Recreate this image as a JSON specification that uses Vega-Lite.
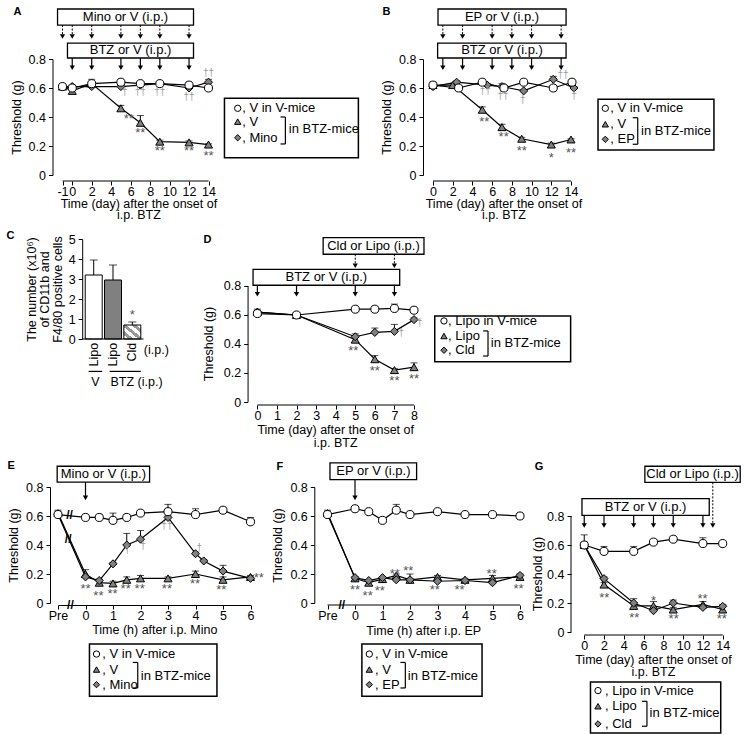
{
"$schema": "https://vega.github.io/schema/vega-lite/v6.json",
"background": "white",
"padding": {"left": 6, "top": 5, "right": 2, "bottom": 0},
"config": {
  "font": "Liberation Sans",
  "view": {"stroke": null},
  "legend": {"disable": true},
  "axis": {"grid": false, "domainColor": "#000", "tickColor": "#000", "labelColor": "#000", "titleColor": "#000", "labelFontSize": 12.5, "titleFontSize": 12.5, "titleFontWeight": "normal", "labelFont": "Liberation Sans", "titleFont": "Liberation Sans", "domainWidth": 1, "tickWidth": 1, "tickSize": 4},
  "axisX": {"labelPadding": 0, "labelFlush": false, "labelOverlap": false},
  "axisY": {"labelPadding": 3, "labelOverlap": false},
  "text": {"font": "Liberation Sans", "fontSize": 12.5, "color": "#000"}
},
"datasets": {
  "A": [
    {"t":-1,"g":"t","v":0.61,"hi":0.63},{"t":0,"g":"t","v":0.58,"hi":0.59},{"t":2,"g":"t","v":0.63,"hi":0.66},{"t":5,"g":"t","v":0.46,"hi":0.48},{"t":7,"g":"t","v":0.36,"hi":0.41},{"t":9,"g":"t","v":0.23,"hi":0.24},{"t":12,"g":"t","v":0.225,"hi":0.235},{"t":14,"g":"t","v":0.21,"hi":0.215},
    {"t":-1,"g":"d","v":0.61,"hi":0.62},{"t":0,"g":"d","v":0.61,"hi":0.62},{"t":2,"g":"d","v":0.61,"hi":0.62},{"t":5,"g":"d","v":0.61,"hi":0.62},{"t":7,"g":"d","v":0.62,"hi":0.64},{"t":9,"g":"d","v":0.63,"hi":0.64},{"t":12,"g":"d","v":0.6,"hi":0.61},{"t":14,"g":"d","v":0.64,"hi":0.66},
    {"t":-1,"g":"o","v":0.61,"hi":0.63},{"t":0,"g":"o","v":0.6,"hi":0.61},{"t":2,"g":"o","v":0.63,"hi":0.64},{"t":5,"g":"o","v":0.64,"hi":0.65},{"t":7,"g":"o","v":0.63,"hi":0.64},{"t":9,"g":"o","v":0.63,"hi":0.64},{"t":12,"g":"o","v":0.62,"hi":0.63},{"t":14,"g":"o","v":0.6,"hi":0.61}
  ],
  "Aarr": [{"t":-1,"k":"top"},{"t":0,"k":"top"},{"t":2,"k":"top"},{"t":5,"k":"top"},{"t":7,"k":"top"},{"t":9,"k":"top"},{"t":12,"k":"top"},{"t":0,"k":"bot"},{"t":2,"k":"bot"},{"t":5,"k":"bot"},{"t":7,"k":"bot"},{"t":9,"k":"bot"},{"t":12,"k":"bot"}],
  "Asig": [{"t":5.8,"at":0.41,"s":"**"},{"t":7,"at":0.31,"s":"**"},{"t":9,"at":0.185,"s":"**"},{"t":12,"at":0.185,"s":"**"},{"t":14,"at":0.15,"s":"**"},{"t":5.4,"at":0.575,"s":"†"},{"t":7,"at":0.575,"s":"††"},{"t":9,"at":0.575,"s":"††"},{"t":12,"at":0.54,"s":"††"},{"t":14,"at":0.705,"s":"††"}],
  "B": [
    {"t":0,"g":"t","v":0.62,"hi":0.64},{"t":2,"g":"t","v":0.62,"hi":0.63},{"t":5,"g":"t","v":0.45,"hi":0.47},{"t":7,"g":"t","v":0.33,"hi":0.35},{"t":9,"g":"t","v":0.25,"hi":0.26},{"t":12,"g":"t","v":0.21,"hi":0.22},{"t":14,"g":"t","v":0.245,"hi":0.25},
    {"t":0,"g":"d","v":0.61,"hi":0.62},{"t":2.4,"g":"d","v":0.64,"hi":0.65},{"t":5.5,"g":"d","v":0.62,"hi":0.63},{"t":7,"g":"d","v":0.61,"hi":0.63},{"t":9.2,"g":"d","v":0.58,"hi":0.59},{"t":12.2,"g":"d","v":0.66,"hi":0.68},{"t":14.3,"g":"d","v":0.6,"hi":0.61},
    {"t":0,"g":"o","v":0.62,"hi":0.63},{"t":2.6,"g":"o","v":0.6,"hi":0.61},{"t":5,"g":"o","v":0.64,"hi":0.65},{"t":7.2,"g":"o","v":0.6,"hi":0.61},{"t":9.2,"g":"o","v":0.64,"hi":0.65},{"t":12.2,"g":"o","v":0.6,"hi":0.61},{"t":14.1,"g":"o","v":0.64,"hi":0.65}
  ],
  "Barr": [{"t":1,"k":"top"},{"t":3,"k":"top"},{"t":6,"k":"top"},{"t":8,"k":"top"},{"t":10,"k":"top"},{"t":13,"k":"top"},{"t":1,"k":"bot"},{"t":3,"k":"bot"},{"t":6,"k":"bot"},{"t":8,"k":"bot"},{"t":10,"k":"bot"},{"t":13,"k":"bot"}],
  "Bsig": [{"t":5.2,"at":0.384,"s":"**"},{"t":7.17,"at":0.28,"s":"**"},{"t":9,"at":0.188,"s":"**"},{"t":12,"at":0.138,"s":"*"},{"t":14,"at":0.172,"s":"**"},{"t":5.3,"at":0.579,"s":"††"},{"t":7.1,"at":0.545,"s":"††"},{"t":9.1,"at":0.515,"s":"†"},{"t":13.2,"at":0.687,"s":"††"},{"t":14.3,"at":0.545,"s":"†"}],
  "C": [{"k":"a","lab":"Lipo","v":3.2,"hi":3.95},{"k":"b","lab":"Lipo","v":2.95,"hi":3.7},{"k":"c","lab":"Cld","v":0.7,"hi":0.85}],
  "D": [
    {"t":0,"g":"t","v":0.62,"hi":0.63},{"t":2,"g":"t","v":0.6,"hi":0.61},{"t":5,"g":"t","v":0.43,"hi":0.45},{"t":6,"g":"t","v":0.295,"hi":0.32},{"t":7,"g":"t","v":0.22,"hi":0.23},{"t":8,"g":"t","v":0.24,"hi":0.27},
    {"t":0,"g":"d","v":0.62,"hi":0.64},{"t":2,"g":"d","v":0.6,"hi":0.61},{"t":5,"g":"d","v":0.45,"hi":0.47},{"t":6,"g":"d","v":0.48,"hi":0.51},{"t":7,"g":"d","v":0.487,"hi":0.535},{"t":8,"g":"d","v":0.568,"hi":0.58},
    {"t":0,"g":"o","v":0.61,"hi":0.62},{"t":2,"g":"o","v":0.6,"hi":0.61},{"t":5,"g":"o","v":0.64,"hi":0.65},{"t":6,"g":"o","v":0.64,"hi":0.65},{"t":7,"g":"o","v":0.645,"hi":0.675},{"t":8,"g":"o","v":0.633,"hi":0.645}
  ],
  "Darr": [{"t":5,"k":"top"},{"t":7,"k":"top"},{"t":0,"k":"bot"},{"t":2,"k":"bot"},{"t":5,"k":"bot"},{"t":7,"k":"bot"}],
  "Dsig": [{"t":4.9,"at":0.374,"s":"**"},{"t":6,"at":0.237,"s":"**"},{"t":7,"at":0.168,"s":"**"},{"t":8,"at":0.18,"s":"**"},{"t":7.35,"at":0.478,"s":"†"},{"t":8.29,"at":0.547,"s":"†"}],
  "E": [
    {"t":-1,"g":"t","v":0.62,"hi":0.64},{"t":0,"g":"t","v":0.2,"hi":0.23},{"t":0.5,"g":"t","v":0.14,"hi":0.16},{"t":1,"g":"t","v":0.135,"hi":0.15},{"t":1.5,"g":"t","v":0.16,"hi":0.18},{"t":2,"g":"t","v":0.17,"hi":0.19},{"t":3,"g":"t","v":0.17,"hi":0.18},{"t":4,"g":"t","v":0.2,"hi":0.22},{"t":5,"g":"t","v":0.16,"hi":0.18},{"t":6,"g":"t","v":0.18,"hi":0.19},
    {"t":-1,"g":"d","v":0.61,"hi":0.62},{"t":0,"g":"d","v":0.18,"hi":0.19},{"t":0.5,"g":"d","v":0.155,"hi":0.165},{"t":1,"g":"d","v":0.27,"hi":0.28},{"t":1.5,"g":"d","v":0.4,"hi":0.48},{"t":2,"g":"d","v":0.44,"hi":0.5},{"t":3,"g":"d","v":0.59,"hi":0.6},{"t":4,"g":"d","v":0.34,"hi":0.35},{"t":4.3,"g":"d","v":0.29,"hi":0.3},{"t":5,"g":"d","v":0.22,"hi":0.26},{"t":6,"g":"d","v":0.17,"hi":0.18},
    {"t":-1,"g":"o","v":0.61,"hi":0.63},{"t":0,"g":"o","v":0.59,"hi":0.61},{"t":0.5,"g":"o","v":0.59,"hi":0.61},{"t":1,"g":"o","v":0.57,"hi":0.62},{"t":1.5,"g":"o","v":0.59,"hi":0.61},{"t":2,"g":"o","v":0.62,"hi":0.63},{"t":3,"g":"o","v":0.63,"hi":0.68},{"t":4,"g":"o","v":0.61,"hi":0.65},{"t":5,"g":"o","v":0.64,"hi":0.65},{"t":6,"g":"o","v":0.56,"hi":0.59}
  ],
  "Earr": [{"t":0,"k":"bot"}],
  "Esig": [{"t":0,"at":0.115,"s":"**"},{"t":0.47,"at":0.069,"s":"**"},{"t":0.98,"at":0.08,"s":"**"},{"t":1.46,"at":0.115,"s":"**"},{"t":1.97,"at":0.115,"s":"**"},{"t":2.96,"at":0.115,"s":"**"},{"t":3.98,"at":0.15,"s":"**"},{"t":4.94,"at":0.108,"s":"**"},{"t":6.3,"at":0.19,"s":"**"},{"t":1.52,"at":0.368,"s":"†"},{"t":2.09,"at":0.391,"s":"†"},{"t":2.96,"at":0.529,"s":"††"},{"t":4.14,"at":0.379,"s":"†"}],
  "F": [
    {"t":-1,"g":"t","v":0.62,"hi":0.64},{"t":0,"g":"t","v":0.17,"hi":0.18},{"t":0.5,"g":"t","v":0.14,"hi":0.16},{"t":1,"g":"t","v":0.165,"hi":0.18},{"t":1.5,"g":"t","v":0.19,"hi":0.2},{"t":2,"g":"t","v":0.16,"hi":0.2},{"t":3,"g":"t","v":0.18,"hi":0.19},{"t":4,"g":"t","v":0.16,"hi":0.17},{"t":5,"g":"t","v":0.17,"hi":0.19},{"t":6,"g":"t","v":0.18,"hi":0.19},
    {"t":-1,"g":"d","v":0.61,"hi":0.62},{"t":0,"g":"d","v":0.175,"hi":0.18},{"t":0.5,"g":"d","v":0.155,"hi":0.16},{"t":1,"g":"d","v":0.175,"hi":0.18},{"t":1.5,"g":"d","v":0.16,"hi":0.17},{"t":2,"g":"d","v":0.16,"hi":0.17},{"t":3,"g":"d","v":0.15,"hi":0.16},{"t":4,"g":"d","v":0.155,"hi":0.16},{"t":5,"g":"d","v":0.14,"hi":0.15},{"t":6,"g":"d","v":0.19,"hi":0.2},
    {"t":-1,"g":"o","v":0.61,"hi":0.63},{"t":0,"g":"o","v":0.65,"hi":0.66},{"t":0.5,"g":"o","v":0.63,"hi":0.64},{"t":1,"g":"o","v":0.57,"hi":0.58},{"t":1.5,"g":"o","v":0.64,"hi":0.68},{"t":2,"g":"o","v":0.61,"hi":0.62},{"t":3,"g":"o","v":0.63,"hi":0.64},{"t":4,"g":"o","v":0.61,"hi":0.62},{"t":5,"g":"o","v":0.61,"hi":0.62},{"t":6,"g":"o","v":0.6,"hi":0.61}
  ],
  "Farr": [{"t":0,"k":"bot"}],
  "Fsig": [{"t":0,"at":0.108,"s":"**"},{"t":0.46,"at":0.069,"s":"**"},{"t":0.9,"at":0.104,"s":"**"},{"t":1.45,"at":0.223,"s":"**"},{"t":1.94,"at":0.241,"s":"**"},{"t":2.9,"at":0.108,"s":"**"},{"t":3.8,"at":0.108,"s":"**"},{"t":4.97,"at":0.223,"s":"**"},{"t":5.95,"at":0.12,"s":"**"}],
  "G": [
    {"t":0,"g":"t","v":0.6,"hi":0.62},{"t":2,"g":"t","v":0.327,"hi":0.34},{"t":5,"g":"t","v":0.18,"hi":0.2},{"t":7,"g":"t","v":0.18,"hi":0.21},{"t":9,"g":"t","v":0.155,"hi":0.17},{"t":12,"g":"t","v":0.19,"hi":0.21},{"t":14,"g":"t","v":0.155,"hi":0.18},
    {"t":0,"g":"d","v":0.6,"hi":0.61},{"t":2,"g":"d","v":0.368,"hi":0.38},{"t":5,"g":"d","v":0.2,"hi":0.23},{"t":7,"g":"d","v":0.147,"hi":0.16},{"t":9,"g":"d","v":0.2,"hi":0.22},{"t":12,"g":"d","v":0.17,"hi":0.18},{"t":14,"g":"d","v":0.177,"hi":0.19},
    {"t":0,"g":"o","v":0.6,"hi":0.67},{"t":2,"g":"o","v":0.556,"hi":0.59},{"t":5,"g":"o","v":0.556,"hi":0.59},{"t":7,"g":"o","v":0.62,"hi":0.63},{"t":9,"g":"o","v":0.64,"hi":0.65},{"t":12,"g":"o","v":0.61,"hi":0.65},{"t":14,"g":"o","v":0.61,"hi":0.62}
  ],
  "Garr": [{"t":13,"k":"top"},{"t":0,"k":"bot"},{"t":2,"k":"bot"},{"t":5,"k":"bot"},{"t":7,"k":"bot"},{"t":9,"k":"bot"},{"t":12,"k":"bot"}],
  "Gsig": [{"t":2.02,"at":0.258,"s":"**"},{"t":5.06,"at":0.115,"s":"**"},{"t":7,"at":0.235,"s":"*"},{"t":9.04,"at":0.108,"s":"**"},{"t":11.97,"at":0.246,"s":"**"},{"t":13.9,"at":0.108,"s":"**"}]
},
"columns": 3,
"spacing": 0,
"bounds": "flush",
"align": "each",
"concat": [
 {"width": 150.5, "height": 116, "layer": [
  {"data": {"name": "A"}, "layer": [
   {"mark": {"type": "line", "color": "black", "strokeWidth": 1.2}, "encoding": {
     "x": {"field": "t", "type": "quantitative", "scale": {"domain": [-1.463, 14], "nice": false, "zero": false}, "axis": {"values": [-1,0,2,4,6,8,10,12,14], "labelExpr": "datum.value == -1 ? '-1' : format(datum.value, 'd')", "tickCount": 30, "offset": 6, "domain": false, "title": null, "labelOverlap": false}},
     "y": {"field": "v", "type": "quantitative", "scale": {"domain": [0, 0.8], "nice": false, "zero": false}, "axis": {"values": [0,0.2,0.4,0.6,0.8], "tickCount": 30, "offset": 5.5, "title": "Threshold (g)", "titlePadding": 5, "labelOverlap": false, "labelExpr": "datum.value == 0 ? '0' : format(datum.value, '.1f')"}},
     "detail": {"field": "g"}}},
   {"mark": {"type": "rule", "color": "black", "strokeWidth": 1}, "encoding": {"x": {"field": "t", "type": "quantitative"}, "y": {"field": "v", "type": "quantitative"}, "y2": {"field": "hi"}}},
   {"mark": {"type": "tick", "orient": "horizontal", "size": 7, "thickness": 1, "color": "black"}, "encoding": {"x": {"field": "t", "type": "quantitative"}, "y": {"field": "hi", "type": "quantitative"}}},
   {"mark": {"type": "point", "filled": true, "size": 65, "stroke": "black", "strokeWidth": 1, "opacity": 1}, "encoding": {"x": {"field": "t", "type": "quantitative"}, "y": {"field": "v", "type": "quantitative"}, "shape": {"field": "g", "type": "nominal", "scale": {"domain": ["o","t","d"], "range": ["circle","triangle-up","diamond"]}, "legend": null}, "fill": {"field": "g", "type": "nominal", "scale": {"domain": ["o","t","d"], "range": ["white","#808080","#808080"]}, "legend": null}}}
  ]},
  {"data": {"name": "Aarr"}, "layer": [
   {"transform": [{"filter": "datum.k == 'top'"}], "mark": {"type": "rule", "color": "black", "strokeWidth": 1, "strokeDash": [2, 1.5]}, "encoding": {"x": {"field": "t", "type": "quantitative"}, "y": {"datum": 1.034}, "y2": {"datum": 0.955}}},
   {"transform": [{"filter": "datum.k == 'top'"}], "mark": {"type": "point", "shape": "triangle-down", "filled": true, "color": "black", "opacity": 1, "size": 28}, "encoding": {"x": {"field": "t", "type": "quantitative"}, "y": {"datum": 0.955}}},
   {"transform": [{"filter": "datum.k == 'bot'"}], "mark": {"type": "rule", "color": "black", "strokeWidth": 1.2}, "encoding": {"x": {"field": "t", "type": "quantitative"}, "y": {"datum": 0.807}, "y2": {"datum": 0.74}}},
   {"transform": [{"filter": "datum.k == 'bot'"}], "mark": {"type": "point", "shape": "triangle-down", "filled": true, "color": "black", "opacity": 1, "size": 28}, "encoding": {"x": {"field": "t", "type": "quantitative"}, "y": {"datum": 0.74}}}
  ]},
  {"data": {"name": "Asig"}, "layer": [
   {"transform": [{"filter": "indexof(datum.s, '*') >= 0"}], "mark": {"type": "text", "fontSize": 13, "color": "#555555", "dy": 3}, "encoding": {"x": {"field": "t", "type": "quantitative"}, "y": {"field": "at", "type": "quantitative"}, "text": {"field": "s"}}},
   {"transform": [{"filter": "indexof(datum.s, '*') < 0"}], "mark": {"type": "text", "fontSize": 10, "color": "#999999"}, "encoding": {"x": {"field": "t", "type": "quantitative"}, "y": {"field": "at", "type": "quantitative"}, "text": {"field": "s"}}}
  ]},
  {"data": {"values": [{}]}, "layer": [
   {"mark": {"type": "rule", "color": "black", "strokeWidth": 1}, "encoding": {"x": {"datum": -1}, "x2": {"datum": 14}, "y": {"datum": -0.0414}}},
   {"mark": {"type": "text", "baseline": "middle"}, "encoding": {"x": {"datum": 6.85}, "y": {"datum": -0.197}, "text": {"value": "Time (day) after the onset of"}}},
   {"mark": {"type": "text", "baseline": "middle"}, "encoding": {"x": {"datum": 6.85}, "y": {"datum": -0.275}, "text": {"value": "i.p. BTZ"}}},
   {"mark": {"type": "rect", "fill": "white", "stroke": "black", "strokeWidth": 1.3}, "encoding": {"x": {"datum": -1.51}, "x2": {"datum": 12.46}, "y": {"datum": 1.145}, "y2": {"datum": 1.034}}},
   {"mark": {"type": "text", "fontSize": 13, "baseline": "middle"}, "encoding": {"x": {"datum": 5.47}, "y": {"datum": 1.09}, "text": {"value": "Mino or V (i.p.)"}}},
   {"mark": {"type": "rect", "fill": "white", "stroke": "black", "strokeWidth": 1.3}, "encoding": {"x": {"datum": -0.49}, "x2": {"datum": 12.46}, "y": {"datum": 0.91}, "y2": {"datum": 0.807}}},
   {"mark": {"type": "text", "fontSize": 13, "baseline": "middle"}, "encoding": {"x": {"datum": 5.99}, "y": {"datum": 0.859}, "text": {"value": "BTZ or V (i.p.)"}}},
   {"mark": {"type": "rect", "fill": "white", "stroke": "black", "strokeWidth": 1.5}, "encoding": {"x": {"datum": 15.64}, "x2": {"datum": 29.4}, "y": {"datum": 0.529}, "y2": {"datum": 0.119}}},
   {"mark": {"type": "point", "shape": "circle", "filled": true, "fill": "white", "stroke": "black", "strokeWidth": 1, "size": 40, "opacity": 1}, "encoding": {"x": {"datum": 17.0}, "y": {"datum": 0.46}}},
   {"mark": {"type": "point", "shape": "triangle-up", "filled": true, "fill": "#808080", "stroke": "black", "strokeWidth": 1, "size": 40, "opacity": 1}, "encoding": {"x": {"datum": 17.0}, "y": {"datum": 0.368}}},
   {"mark": {"type": "point", "shape": "diamond", "filled": true, "fill": "#808080", "stroke": "black", "strokeWidth": 1, "size": 40, "opacity": 1}, "encoding": {"x": {"datum": 17.0}, "y": {"datum": 0.257}}},
   {"mark": {"type": "text", "align": "left", "baseline": "middle", "fontSize": 13}, "encoding": {"x": {"datum": 17.46}, "y": {"datum": 0.46}, "text": {"value": ", V in V-mice"}}},
   {"mark": {"type": "text", "align": "left", "baseline": "middle", "fontSize": 13}, "encoding": {"x": {"datum": 17.46}, "y": {"datum": 0.368}, "text": {"value": ", V"}}},
   {"mark": {"type": "text", "align": "left", "baseline": "middle", "fontSize": 13}, "encoding": {"x": {"datum": 17.46}, "y": {"datum": 0.257}, "text": {"value": ", Mino"}}},
   {"mark": {"type": "rule", "color": "black", "strokeWidth": 1.2}, "encoding": {"x": {"datum": 21.9}, "y": {"datum": 0.4}, "y2": {"datum": 0.214}}},
   {"mark": {"type": "rule", "color": "black", "strokeWidth": 1.2}, "encoding": {"x": {"datum": 21.4}, "x2": {"datum": 21.9}, "y": {"datum": 0.4}}},
   {"mark": {"type": "rule", "color": "black", "strokeWidth": 1.2}, "encoding": {"x": {"datum": 21.4}, "x2": {"datum": 21.9}, "y": {"datum": 0.214}}},
   {"mark": {"type": "text", "align": "left", "baseline": "middle", "fontSize": 13}, "encoding": {"x": {"datum": 22.25}, "y": {"datum": 0.315}, "text": {"value": "in BTZ-mice"}}},
   {"mark": {"type": "text", "fontSize": 11, "fontWeight": "bold", "baseline": "middle"}, "encoding": {"x": {"datum": -5.62}, "y": {"datum": 1.127}, "text": {"value": "A"}}},
   {"mark": {"type": "text", "fontSize": 11, "fontWeight": "bold", "baseline": "middle"}, "encoding": {"x": {"datum": -6.34}, "y": {"datum": -0.42}, "text": {"value": "C"}}}
  ]}
 ]},
 {"width": 320, "height": 116, "layer": [
  {"data": {"name": "B"}, "layer": [
   {"mark": {"type": "line", "color": "black", "strokeWidth": 1.2}, "encoding": {
     "x": {"field": "t", "type": "quantitative", "scale": {"domain": [-18.46, 14], "nice": false, "zero": false}, "axis": {"values": [0,2,4,6,8,10,12,14], "format": "d", "tickCount": 30, "offset": 6, "domain": false, "title": null, "labelOverlap": false}},
     "y": {"field": "v", "type": "quantitative", "scale": {"domain": [0, 0.8], "nice": false, "zero": false}, "axis": {"values": [0,0.2,0.4,0.6,0.8], "tickCount": 30, "offset": -172, "title": "Threshold (g)", "titlePadding": 5, "labelOverlap": false, "labelExpr": "datum.value == 0 ? '0' : format(datum.value, '.1f')"}},
     "detail": {"field": "g"}}},
   {"mark": {"type": "rule", "color": "black", "strokeWidth": 1}, "encoding": {"x": {"field": "t", "type": "quantitative"}, "y": {"field": "v", "type": "quantitative"}, "y2": {"field": "hi"}}},
   {"mark": {"type": "tick", "orient": "horizontal", "size": 7, "thickness": 1, "color": "black"}, "encoding": {"x": {"field": "t", "type": "quantitative"}, "y": {"field": "hi", "type": "quantitative"}}},
   {"mark": {"type": "point", "filled": true, "size": 65, "stroke": "black", "strokeWidth": 1, "opacity": 1}, "encoding": {"x": {"field": "t", "type": "quantitative"}, "y": {"field": "v", "type": "quantitative"}, "shape": {"field": "g", "type": "nominal", "scale": {"domain": ["o","t","d"], "range": ["circle","triangle-up","diamond"]}, "legend": null}, "fill": {"field": "g", "type": "nominal", "scale": {"domain": ["o","t","d"], "range": ["white","#808080","#808080"]}, "legend": null}}}
  ]},
  {"data": {"name": "Barr"}, "layer": [
   {"transform": [{"filter": "datum.k == 'top'"}], "mark": {"type": "rule", "color": "black", "strokeWidth": 1, "strokeDash": [2, 1.5]}, "encoding": {"x": {"field": "t", "type": "quantitative"}, "y": {"datum": 1.034}, "y2": {"datum": 0.955}}},
   {"transform": [{"filter": "datum.k == 'top'"}], "mark": {"type": "point", "shape": "triangle-down", "filled": true, "color": "black", "opacity": 1, "size": 28}, "encoding": {"x": {"field": "t", "type": "quantitative"}, "y": {"datum": 0.955}}},
   {"transform": [{"filter": "datum.k == 'bot'"}], "mark": {"type": "rule", "color": "black", "strokeWidth": 1.2}, "encoding": {"x": {"field": "t", "type": "quantitative"}, "y": {"datum": 0.807}, "y2": {"datum": 0.74}}},
   {"transform": [{"filter": "datum.k == 'bot'"}], "mark": {"type": "point", "shape": "triangle-down", "filled": true, "color": "black", "opacity": 1, "size": 28}, "encoding": {"x": {"field": "t", "type": "quantitative"}, "y": {"datum": 0.74}}}
  ]},
  {"data": {"name": "Bsig"}, "layer": [
   {"transform": [{"filter": "indexof(datum.s, '*') >= 0"}], "mark": {"type": "text", "fontSize": 13, "color": "#555555", "dy": 3}, "encoding": {"x": {"field": "t", "type": "quantitative"}, "y": {"field": "at", "type": "quantitative"}, "text": {"field": "s"}}},
   {"transform": [{"filter": "indexof(datum.s, '*') < 0"}], "mark": {"type": "text", "fontSize": 10, "color": "#999999"}, "encoding": {"x": {"field": "t", "type": "quantitative"}, "y": {"field": "at", "type": "quantitative"}, "text": {"field": "s"}}}
  ]},
  {"data": {"values": [{}]}, "layer": [
   {"mark": {"type": "rule", "color": "black", "strokeWidth": 1}, "encoding": {"x": {"datum": 0}, "x2": {"datum": 14}, "y": {"datum": -0.0414}}},
   {"mark": {"type": "text", "baseline": "middle"}, "encoding": {"x": {"datum": 7.2}, "y": {"datum": -0.197}, "text": {"value": "Time (day) after the onset of"}}},
   {"mark": {"type": "text", "baseline": "middle"}, "encoding": {"x": {"datum": 7.2}, "y": {"datum": -0.275}, "text": {"value": "i.p. BTZ"}}},
   {"mark": {"type": "rect", "fill": "white", "stroke": "black", "strokeWidth": 1.3}, "encoding": {"x": {"datum": 0.51}, "x2": {"datum": 13.5}, "y": {"datum": 1.145}, "y2": {"datum": 1.034}}},
   {"mark": {"type": "text", "fontSize": 13, "baseline": "middle"}, "encoding": {"x": {"datum": 7.0}, "y": {"datum": 1.09}, "text": {"value": "EP or V (i.p.)"}}},
   {"mark": {"type": "rect", "fill": "white", "stroke": "black", "strokeWidth": 1.3}, "encoding": {"x": {"datum": 0.47}, "x2": {"datum": 13.5}, "y": {"datum": 0.91}, "y2": {"datum": 0.807}}},
   {"mark": {"type": "text", "fontSize": 13, "baseline": "middle"}, "encoding": {"x": {"datum": 7.0}, "y": {"datum": 0.859}, "text": {"value": "BTZ or V (i.p.)"}}},
   {"mark": {"type": "rect", "fill": "white", "stroke": "black", "strokeWidth": 1.5}, "encoding": {"x": {"datum": 16.74}, "x2": {"datum": 28.5}, "y": {"datum": 0.522}, "y2": {"datum": 0.172}}},
   {"mark": {"type": "point", "shape": "circle", "filled": true, "fill": "white", "stroke": "black", "strokeWidth": 1, "size": 40, "opacity": 1}, "encoding": {"x": {"datum": 17.48}, "y": {"datum": 0.46}}},
   {"mark": {"type": "point", "shape": "triangle-up", "filled": true, "fill": "#808080", "stroke": "black", "strokeWidth": 1, "size": 40, "opacity": 1}, "encoding": {"x": {"datum": 17.48}, "y": {"datum": 0.35}}},
   {"mark": {"type": "point", "shape": "diamond", "filled": true, "fill": "#808080", "stroke": "black", "strokeWidth": 1, "size": 40, "opacity": 1}, "encoding": {"x": {"datum": 17.48}, "y": {"datum": 0.246}}},
   {"mark": {"type": "text", "align": "left", "baseline": "middle", "fontSize": 13}, "encoding": {"x": {"datum": 17.99}, "y": {"datum": 0.46}, "text": {"value": ", V in V-mice"}}},
   {"mark": {"type": "text", "align": "left", "baseline": "middle", "fontSize": 13}, "encoding": {"x": {"datum": 17.99}, "y": {"datum": 0.35}, "text": {"value": ", V"}}},
   {"mark": {"type": "text", "align": "left", "baseline": "middle", "fontSize": 13}, "encoding": {"x": {"datum": 17.99}, "y": {"datum": 0.246}, "text": {"value": ", EP"}}},
   {"mark": {"type": "rule", "color": "black", "strokeWidth": 1.2}, "encoding": {"x": {"datum": 20.77}, "y": {"datum": 0.395}, "y2": {"datum": 0.212}}},
   {"mark": {"type": "rule", "color": "black", "strokeWidth": 1.2}, "encoding": {"x": {"datum": 20.26}, "x2": {"datum": 20.77}, "y": {"datum": 0.395}}},
   {"mark": {"type": "rule", "color": "black", "strokeWidth": 1.2}, "encoding": {"x": {"datum": 20.26}, "x2": {"datum": 20.77}, "y": {"datum": 0.212}}},
   {"mark": {"type": "text", "align": "left", "baseline": "middle", "fontSize": 13}, "encoding": {"x": {"datum": 21.1}, "y": {"datum": 0.303}, "text": {"value": "in BTZ-mice"}}},
   {"mark": {"type": "text", "fontSize": 11, "fontWeight": "bold", "baseline": "middle"}, "encoding": {"x": {"datum": -4.72}, "y": {"datum": 1.127}, "text": {"value": "B"}}}
  ]}
 ]},
 {"width": 1, "height": 1, "data": {"values": []}, "mark": {"type": "point", "opacity": 0}},

 {"width": 1, "height": 64, "data": {"values": []}, "mark": {"type": "point", "opacity": 0}},
 {"width": 1, "height": 1, "data": {"values": []}, "mark": {"type": "point", "opacity": 0}},
 {"width": 1, "height": 1, "data": {"values": []}, "mark": {"type": "point", "opacity": 0}},

 {"width": 85.5, "height": 100, "layer": [
  {"data": {"name": "C"}, "layer": [
   {"transform": [{"filter": "datum.k == 'a'"}], "mark": {"type": "bar", "fill": "white", "stroke": "black", "strokeWidth": 1}, "encoding": {
     "x": {"field": "k", "type": "nominal", "scale": {"domain": ["a","b","c"], "paddingInner": 0.12, "paddingOuter": 0.775, "align": 0.91}, "axis": {"labels": false, "ticks": false, "title": null, "domain": false}},
     "y": {"field": "v", "type": "quantitative", "scale": {"domain": [0, 5], "nice": false, "zero": true}, "axis": {"values": [0,1,2,3,4,5], "format": "d", "tickCount": 30, "offset": -24.2, "labelOverlap": false, "title": ["The number (x10⁶)", "of CD11b and", "F4/80 positive cells"], "titleLineHeight": 13, "titlePadding": 4}}}},
   {"transform": [{"filter": "datum.k == 'b'"}], "mark": {"type": "bar", "fill": "#808080", "stroke": "black", "strokeWidth": 1}, "encoding": {"x": {"field": "k", "type": "nominal"}, "y": {"field": "v", "type": "quantitative"}}},
   {"transform": [{"filter": "datum.k == 'c'"}], "mark": {"type": "bar", "stroke": "black", "strokeWidth": 1, "fill": {"gradient": "linear", "x1": 1, "y1": 0, "x2": 0, "y2": 1, "stops": [
     {"offset": 0, "color": "#ffffff"}, {"offset": 0.14, "color": "#ffffff"}, {"offset": 0.14, "color": "#9a9a9a"}, {"offset": 0.28, "color": "#9a9a9a"}, {"offset": 0.28, "color": "#ffffff"}, {"offset": 0.43, "color": "#ffffff"}, {"offset": 0.43, "color": "#9a9a9a"}, {"offset": 0.57, "color": "#9a9a9a"}, {"offset": 0.57, "color": "#ffffff"}, {"offset": 0.71, "color": "#ffffff"}, {"offset": 0.71, "color": "#9a9a9a"}, {"offset": 0.86, "color": "#9a9a9a"}, {"offset": 0.86, "color": "#ffffff"}, {"offset": 1, "color": "#ffffff"}]}}, "encoding": {"x": {"field": "k", "type": "nominal"}, "y": {"field": "v", "type": "quantitative"}}},
   {"mark": {"type": "rule", "color": "black", "strokeWidth": 1}, "encoding": {"x": {"field": "k", "type": "nominal"}, "y": {"field": "v", "type": "quantitative"}, "y2": {"field": "hi"}}},
   {"mark": {"type": "tick", "orient": "horizontal", "size": 8, "thickness": 1, "color": "black"}, "encoding": {"x": {"field": "k", "type": "nominal"}, "y": {"field": "hi", "type": "quantitative"}}},
   {"mark": {"type": "text", "angle": 270, "align": "right", "baseline": "middle", "fontSize": 12.5}, "encoding": {"x": {"field": "k", "type": "nominal"}, "y": {"datum": -0.19}, "text": {"field": "lab"}}}
  ]},
  {"data": {"values": [{}]}, "layer": [
   {"mark": {"type": "rule", "color": "black", "strokeWidth": 1}, "encoding": {"x": {"datum": "a", "type": "nominal", "bandPosition": -0.176}, "x2": {"datum": "c", "bandPosition": 1.16}, "y": {"datum": 0}}},
   {"mark": {"type": "text", "align": "left", "baseline": "middle", "dx": 3}, "encoding": {"x": {"datum": "c", "type": "nominal", "bandPosition": 1}, "y": {"datum": -0.55}, "text": {"value": "(i.p.)"}}},
   {"mark": {"type": "rule", "color": "black", "strokeWidth": 1.2}, "encoding": {"x": {"datum": "a", "type": "nominal", "bandPosition": 0.2}, "x2": {"datum": "a", "bandPosition": 1}, "y": {"datum": -1.62}}},
   {"mark": {"type": "rule", "color": "black", "strokeWidth": 1.2}, "encoding": {"x": {"datum": "b", "type": "nominal", "bandPosition": 0.3}, "x2": {"datum": "c", "bandPosition": 1}, "y": {"datum": -1.62}}},
   {"mark": {"type": "text", "baseline": "middle"}, "encoding": {"x": {"datum": "a", "type": "nominal", "bandPosition": 0.6}, "y": {"datum": -2.15}, "text": {"value": "V"}}},
   {"mark": {"type": "text", "align": "left", "baseline": "middle"}, "encoding": {"x": {"datum": "b", "type": "nominal", "bandPosition": 0.35}, "y": {"datum": -2.15}, "text": {"value": "BTZ (i.p.)"}}},
   {"mark": {"type": "text", "fontSize": 13, "color": "#555555", "dy": 3}, "encoding": {"x": {"datum": "c", "type": "nominal"}, "y": {"datum": 1.33}, "text": {"value": "*"}}}
  ]}
 ]},
 {"width": 163, "height": 163, "layer": [
  {"data": {"name": "D"}, "layer": [
   {"mark": {"type": "line", "color": "black", "strokeWidth": 1.2}, "encoding": {
     "x": {"field": "t", "type": "quantitative", "scale": {"domain": [-0.325, 8], "nice": false, "zero": false}, "axis": {"values": [0,1,2,3,4,5,6,7,8], "format": "d", "tickCount": 30, "offset": 3, "domain": false, "title": null, "labelOverlap": false}},
     "y": {"field": "v", "type": "quantitative", "scale": {"domain": [0, 1.124], "nice": false, "zero": false}, "axis": {"values": [0,0.2,0.4,0.6,0.8], "tickCount": 30, "offset": 3.3, "domain": false, "title": null, "labelOverlap": false, "labelExpr": "datum.value == 0 ? '0' : format(datum.value, '.1f')"}},
     "detail": {"field": "g"}}},
   {"mark": {"type": "rule", "color": "black", "strokeWidth": 1}, "encoding": {"x": {"field": "t", "type": "quantitative"}, "y": {"field": "v", "type": "quantitative"}, "y2": {"field": "hi"}}},
   {"mark": {"type": "tick", "orient": "horizontal", "size": 7, "thickness": 1, "color": "black"}, "encoding": {"x": {"field": "t", "type": "quantitative"}, "y": {"field": "hi", "type": "quantitative"}}},
   {"mark": {"type": "point", "filled": true, "size": 65, "stroke": "black", "strokeWidth": 1, "opacity": 1}, "encoding": {"x": {"field": "t", "type": "quantitative"}, "y": {"field": "v", "type": "quantitative"}, "shape": {"field": "g", "type": "nominal", "scale": {"domain": ["o","t","d"], "range": ["circle","triangle-up","diamond"]}, "legend": null}, "fill": {"field": "g", "type": "nominal", "scale": {"domain": ["o","t","d"], "range": ["white","#808080","#808080"]}, "legend": null}}}
  ]},
  {"data": {"name": "Darr"}, "layer": [
   {"transform": [{"filter": "datum.k == 'top'"}], "mark": {"type": "rule", "color": "black", "strokeWidth": 1, "strokeDash": [2, 1.5]}, "encoding": {"x": {"field": "t", "type": "quantitative"}, "y": {"datum": 1.019}, "y2": {"datum": 0.94}}},
   {"transform": [{"filter": "datum.k == 'top'"}], "mark": {"type": "point", "shape": "triangle-down", "filled": true, "color": "black", "opacity": 1, "size": 28}, "encoding": {"x": {"field": "t", "type": "quantitative"}, "y": {"datum": 0.94}}},
   {"transform": [{"filter": "datum.k == 'bot'"}], "mark": {"type": "rule", "color": "black", "strokeWidth": 1.2}, "encoding": {"x": {"field": "t", "type": "quantitative"}, "y": {"datum": 0.805}, "y2": {"datum": 0.743}}},
   {"transform": [{"filter": "datum.k == 'bot'"}], "mark": {"type": "point", "shape": "triangle-down", "filled": true, "color": "black", "opacity": 1, "size": 28}, "encoding": {"x": {"field": "t", "type": "quantitative"}, "y": {"datum": 0.743}}}
  ]},
  {"data": {"name": "Dsig"}, "layer": [
   {"transform": [{"filter": "indexof(datum.s, '*') >= 0"}], "mark": {"type": "text", "fontSize": 13, "color": "#555555", "dy": 3}, "encoding": {"x": {"field": "t", "type": "quantitative"}, "y": {"field": "at", "type": "quantitative"}, "text": {"field": "s"}}},
   {"transform": [{"filter": "indexof(datum.s, '*') < 0"}], "mark": {"type": "text", "fontSize": 10, "color": "#999999"}, "encoding": {"x": {"field": "t", "type": "quantitative"}, "y": {"field": "at", "type": "quantitative"}, "text": {"field": "s"}}}
  ]},
  {"data": {"values": [{}]}, "layer": [
   {"mark": {"type": "rule", "color": "black", "strokeWidth": 1}, "encoding": {"x": {"datum": -0.475}, "y": {"datum": 0}, "y2": {"datum": 0.8}}},
   {"mark": {"type": "rule", "color": "black", "strokeWidth": 1}, "encoding": {"x": {"datum": 0}, "x2": {"datum": 8}, "y": {"datum": -0.0207}}},
   {"mark": {"type": "text", "baseline": "middle", "angle": 270}, "encoding": {"x": {"datum": -2.48}, "y": {"datum": 0.4}, "text": {"value": "Threshold (g)"}}},
   {"mark": {"type": "text", "baseline": "middle"}, "encoding": {"x": {"datum": 4}, "y": {"datum": -0.19}, "text": {"value": "Time (day) after the onset of"}}},
   {"mark": {"type": "text", "baseline": "middle"}, "encoding": {"x": {"datum": 4}, "y": {"datum": -0.284}, "text": {"value": "i.p. BTZ"}}},
   {"mark": {"type": "rect", "fill": "white", "stroke": "black", "strokeWidth": 1.3}, "encoding": {"x": {"datum": 3.36}, "x2": {"datum": 8.51}, "y": {"datum": 1.133}, "y2": {"datum": 1.019}}},
   {"mark": {"type": "text", "fontSize": 13, "baseline": "middle"}, "encoding": {"x": {"datum": 5.93}, "y": {"datum": 1.076}, "text": {"value": "Cld or Lipo (i.p.)"}}},
   {"mark": {"type": "rect", "fill": "white", "stroke": "black", "strokeWidth": 1.3}, "encoding": {"x": {"datum": -0.22}, "x2": {"datum": 7.27}, "y": {"datum": 0.915}, "y2": {"datum": 0.805}}},
   {"mark": {"type": "text", "fontSize": 13, "baseline": "middle"}, "encoding": {"x": {"datum": 3.52}, "y": {"datum": 0.86}, "text": {"value": "BTZ or V (i.p.)"}}},
   {"mark": {"type": "rect", "fill": "white", "stroke": "black", "strokeWidth": 1.5}, "encoding": {"x": {"datum": 9.06}, "x2": {"datum": 16.0}, "y": {"datum": 0.593}, "y2": {"datum": 0.278}}},
   {"mark": {"type": "point", "shape": "circle", "filled": true, "fill": "white", "stroke": "black", "strokeWidth": 1, "size": 40, "opacity": 1}, "encoding": {"x": {"datum": 9.53}, "y": {"datum": 0.559}}},
   {"mark": {"type": "point", "shape": "triangle-up", "filled": true, "fill": "#808080", "stroke": "black", "strokeWidth": 1, "size": 40, "opacity": 1}, "encoding": {"x": {"datum": 9.53}, "y": {"datum": 0.455}}},
   {"mark": {"type": "point", "shape": "diamond", "filled": true, "fill": "#808080", "stroke": "black", "strokeWidth": 1, "size": 40, "opacity": 1}, "encoding": {"x": {"datum": 9.53}, "y": {"datum": 0.357}}},
   {"mark": {"type": "text", "align": "left", "baseline": "middle", "fontSize": 13}, "encoding": {"x": {"datum": 9.74}, "y": {"datum": 0.559}, "text": {"value": ", Lipo in V-mice"}}},
   {"mark": {"type": "text", "align": "left", "baseline": "middle", "fontSize": 13}, "encoding": {"x": {"datum": 9.74}, "y": {"datum": 0.455}, "text": {"value": ", Lipo"}}},
   {"mark": {"type": "text", "align": "left", "baseline": "middle", "fontSize": 13}, "encoding": {"x": {"datum": 9.74}, "y": {"datum": 0.357}, "text": {"value": ", Cld"}}},
   {"mark": {"type": "rule", "color": "black", "strokeWidth": 1.2}, "encoding": {"x": {"datum": 11.78}, "y": {"datum": 0.49}, "y2": {"datum": 0.317}}},
   {"mark": {"type": "rule", "color": "black", "strokeWidth": 1.2}, "encoding": {"x": {"datum": 11.53}, "x2": {"datum": 11.78}, "y": {"datum": 0.49}}},
   {"mark": {"type": "rule", "color": "black", "strokeWidth": 1.2}, "encoding": {"x": {"datum": 11.53}, "x2": {"datum": 11.78}, "y": {"datum": 0.317}}},
   {"mark": {"type": "text", "align": "left", "baseline": "middle", "fontSize": 13}, "encoding": {"x": {"datum": 11.92}, "y": {"datum": 0.409}, "text": {"value": "in BTZ-mice"}}},
   {"mark": {"type": "text", "fontSize": 11, "fontWeight": "bold", "baseline": "middle"}, "encoding": {"x": {"datum": -2.55}, "y": {"datum": 1.117}, "text": {"value": "D"}}}
  ]}
 ]},
 {"width": 1, "height": 1, "data": {"values": []}, "mark": {"type": "point", "opacity": 0}},

 {"width": 1, "height": 85, "data": {"values": []}, "mark": {"type": "point", "opacity": 0}},
 {"width": 1, "height": 1, "data": {"values": []}, "mark": {"type": "point", "opacity": 0}},
 {"width": 1, "height": 1, "data": {"values": []}, "mark": {"type": "point", "opacity": 0}},

 {"width": 192.5, "height": 116, "layer": [
  {"data": {"name": "E"}, "layer": [
   {"mark": {"type": "line", "color": "black", "strokeWidth": 1.2}, "encoding": {
     "x": {"field": "t", "type": "quantitative", "scale": {"domain": [-1, 6], "nice": false, "zero": false}, "axis": {"values": [-1,0,1,2,3,4,5,6], "tickCount": 30, "offset": 2, "title": "Time (h) after i.p. Mino", "titlePadding": 2, "labelOverlap": false, "labelExpr": "datum.value == -1 ? 'Pre' : format(datum.value, 'd')"}},
     "y": {"field": "v", "type": "quantitative", "scale": {"domain": [0, 0.8], "nice": false, "zero": false}, "axis": {"values": [0,0.2,0.4,0.6,0.8], "tickCount": 30, "offset": 8, "title": "Threshold (g)", "titlePadding": 5, "labelOverlap": false, "labelExpr": "datum.value == 0 ? '0' : format(datum.value, '.1f')"}},
     "detail": {"field": "g"}}},
   {"mark": {"type": "rule", "color": "black", "strokeWidth": 1}, "encoding": {"x": {"field": "t", "type": "quantitative"}, "y": {"field": "v", "type": "quantitative"}, "y2": {"field": "hi"}}},
   {"mark": {"type": "tick", "orient": "horizontal", "size": 7, "thickness": 1, "color": "black"}, "encoding": {"x": {"field": "t", "type": "quantitative"}, "y": {"field": "hi", "type": "quantitative"}}},
   {"mark": {"type": "point", "filled": true, "size": 65, "stroke": "black", "strokeWidth": 1, "opacity": 1}, "encoding": {"x": {"field": "t", "type": "quantitative"}, "y": {"field": "v", "type": "quantitative"}, "shape": {"field": "g", "type": "nominal", "scale": {"domain": ["o","t","d"], "range": ["circle","triangle-up","diamond"]}, "legend": null}, "fill": {"field": "g", "type": "nominal", "scale": {"domain": ["o","t","d"], "range": ["white","#808080","#808080"]}, "legend": null}}}
  ]},
  {"data": {"name": "Earr"}, "layer": [
   {"mark": {"type": "rule", "color": "black", "strokeWidth": 1.2}, "encoding": {"x": {"field": "t", "type": "quantitative"}, "y": {"datum": 0.834}, "y2": {"datum": 0.725}}},
   {"mark": {"type": "point", "shape": "triangle-down", "filled": true, "color": "black", "opacity": 1, "size": 28}, "encoding": {"x": {"field": "t", "type": "quantitative"}, "y": {"datum": 0.725}}}
  ]},
  {"data": {"name": "Esig"}, "layer": [
   {"transform": [{"filter": "indexof(datum.s, '*') >= 0"}], "mark": {"type": "text", "fontSize": 13, "color": "#555555", "dy": 3}, "encoding": {"x": {"field": "t", "type": "quantitative"}, "y": {"field": "at", "type": "quantitative"}, "text": {"field": "s"}}},
   {"transform": [{"filter": "indexof(datum.s, '*') < 0"}], "mark": {"type": "text", "fontSize": 10, "color": "#999999"}, "encoding": {"x": {"field": "t", "type": "quantitative"}, "y": {"field": "at", "type": "quantitative"}, "text": {"field": "s"}}}
  ]},
  {"data": {"values": [{}]}, "layer": [
   {"mark": {"type": "rect", "fill": "white", "stroke": "black", "strokeWidth": 1.3}, "encoding": {"x": {"datum": -1.03}, "x2": {"datum": 2.33}, "y": {"datum": 0.943}, "y2": {"datum": 0.834}}},
   {"mark": {"type": "text", "fontSize": 13, "baseline": "middle"}, "encoding": {"x": {"datum": 0.65}, "y": {"datum": 0.889}, "text": {"value": "Mino or V (i.p.)"}}},
   {"mark": {"type": "text", "fontSize": 12, "fontWeight": "bold", "baseline": "middle"}, "encoding": {"x": {"datum": -0.55}, "y": {"datum": -0.013}, "text": {"value": "//"}}},
   {"mark": {"type": "text", "fontSize": 12, "fontWeight": "bold", "baseline": "middle"}, "encoding": {"x": {"datum": -0.58}, "y": {"datum": 0.608}, "text": {"value": "//"}}},
   {"mark": {"type": "text", "fontSize": 12, "fontWeight": "bold", "baseline": "middle"}, "encoding": {"x": {"datum": -0.63}, "y": {"datum": 0.44}, "text": {"value": "//"}}},
   {"mark": {"type": "rect", "fill": "white", "stroke": "black", "strokeWidth": 1.5}, "encoding": {"x": {"datum": 0.144}, "x2": {"datum": 4.78}, "y": {"datum": -0.283}, "y2": {"datum": -0.643}}},
   {"mark": {"type": "point", "shape": "circle", "filled": true, "fill": "white", "stroke": "black", "strokeWidth": 1, "size": 40, "opacity": 1}, "encoding": {"x": {"datum": 0.4}, "y": {"datum": -0.352}}},
   {"mark": {"type": "point", "shape": "triangle-up", "filled": true, "fill": "#808080", "stroke": "black", "strokeWidth": 1, "size": 40, "opacity": 1}, "encoding": {"x": {"datum": 0.4}, "y": {"datum": -0.459}}},
   {"mark": {"type": "point", "shape": "diamond", "filled": true, "fill": "#808080", "stroke": "black", "strokeWidth": 1, "size": 40, "opacity": 1}, "encoding": {"x": {"datum": 0.4}, "y": {"datum": -0.563}}},
   {"mark": {"type": "text", "align": "left", "baseline": "middle", "fontSize": 13}, "encoding": {"x": {"datum": 0.61}, "y": {"datum": -0.352}, "text": {"value": ", V in V-mice"}}},
   {"mark": {"type": "text", "align": "left", "baseline": "middle", "fontSize": 13}, "encoding": {"x": {"datum": 0.61}, "y": {"datum": -0.459}, "text": {"value": ", V"}}},
   {"mark": {"type": "text", "align": "left", "baseline": "middle", "fontSize": 13}, "encoding": {"x": {"datum": 0.61}, "y": {"datum": -0.563}, "text": {"value": ", Mino"}}},
   {"mark": {"type": "rule", "color": "black", "strokeWidth": 1.2}, "encoding": {"x": {"datum": 1.9}, "y": {"datum": -0.41}, "y2": {"datum": -0.586}}},
   {"mark": {"type": "rule", "color": "black", "strokeWidth": 1.2}, "encoding": {"x": {"datum": 1.72}, "x2": {"datum": 1.9}, "y": {"datum": -0.41}}},
   {"mark": {"type": "rule", "color": "black", "strokeWidth": 1.2}, "encoding": {"x": {"datum": 1.72}, "x2": {"datum": 1.9}, "y": {"datum": -0.586}}},
   {"mark": {"type": "text", "align": "left", "baseline": "middle", "fontSize": 13}, "encoding": {"x": {"datum": 2.01}, "y": {"datum": -0.506}, "text": {"value": "in BTZ-mice"}}},
   {"mark": {"type": "text", "fontSize": 11, "fontWeight": "bold", "baseline": "middle"}, "encoding": {"x": {"datum": -2.7}, "y": {"datum": 0.943}, "text": {"value": "E"}}}
  ]}
 ]},
 {"width": 269, "height": 116, "layer": [
  {"data": {"name": "F"}, "layer": [
   {"mark": {"type": "line", "color": "black", "strokeWidth": 1.2}, "encoding": {
     "x": {"field": "t", "type": "quantitative", "scale": {"domain": [-3.782, 6], "nice": false, "zero": false}, "axis": {"values": [-1,0,1,2,3,4,5,6], "tickCount": 30, "offset": 2, "domain": false, "title": null, "labelOverlap": false, "labelExpr": "datum.value == -1 ? 'Pre' : format(datum.value, 'd')"}},
     "y": {"field": "v", "type": "quantitative", "scale": {"domain": [0, 0.8], "nice": false, "zero": false}, "axis": {"values": [0,0.2,0.4,0.6,0.8], "tickCount": 30, "offset": -63.3, "title": "Threshold (g)", "titlePadding": 5, "labelOverlap": false, "labelExpr": "datum.value == 0 ? '0' : format(datum.value, '.1f')"}},
     "detail": {"field": "g"}}},
   {"mark": {"type": "rule", "color": "black", "strokeWidth": 1}, "encoding": {"x": {"field": "t", "type": "quantitative"}, "y": {"field": "v", "type": "quantitative"}, "y2": {"field": "hi"}}},
   {"mark": {"type": "tick", "orient": "horizontal", "size": 7, "thickness": 1, "color": "black"}, "encoding": {"x": {"field": "t", "type": "quantitative"}, "y": {"field": "hi", "type": "quantitative"}}},
   {"mark": {"type": "point", "filled": true, "size": 65, "stroke": "black", "strokeWidth": 1, "opacity": 1}, "encoding": {"x": {"field": "t", "type": "quantitative"}, "y": {"field": "v", "type": "quantitative"}, "shape": {"field": "g", "type": "nominal", "scale": {"domain": ["o","t","d"], "range": ["circle","triangle-up","diamond"]}, "legend": null}, "fill": {"field": "g", "type": "nominal", "scale": {"domain": ["o","t","d"], "range": ["white","#808080","#808080"]}, "legend": null}}}
  ]},
  {"data": {"name": "Farr"}, "layer": [
   {"mark": {"type": "rule", "color": "black", "strokeWidth": 1.2}, "encoding": {"x": {"field": "t", "type": "quantitative"}, "y": {"datum": 0.851}, "y2": {"datum": 0.725}}},
   {"mark": {"type": "point", "shape": "triangle-down", "filled": true, "color": "black", "opacity": 1, "size": 28}, "encoding": {"x": {"field": "t", "type": "quantitative"}, "y": {"datum": 0.725}}}
  ]},
  {"data": {"name": "Fsig"}, "layer": [
   {"mark": {"type": "text", "fontSize": 13, "color": "#555555", "dy": 3}, "encoding": {"x": {"field": "t", "type": "quantitative"}, "y": {"field": "at", "type": "quantitative"}, "text": {"field": "s"}}}
  ]},
  {"data": {"values": [{}]}, "layer": [
   {"mark": {"type": "rule", "color": "black", "strokeWidth": 1}, "encoding": {"x": {"datum": -1}, "x2": {"datum": 6}, "y": {"datum": -0.0138}}},
   {"mark": {"type": "text", "baseline": "middle"}, "encoding": {"x": {"datum": 2.5}, "y": {"datum": -0.195}, "text": {"value": "Time (h) after i.p. EP"}}},
   {"mark": {"type": "rect", "fill": "white", "stroke": "black", "strokeWidth": 1.3}, "encoding": {"x": {"datum": -0.91}, "x2": {"datum": 2.24}, "y": {"datum": 0.966}, "y2": {"datum": 0.851}}},
   {"mark": {"type": "text", "fontSize": 13, "baseline": "middle"}, "encoding": {"x": {"datum": 0.67}, "y": {"datum": 0.908}, "text": {"value": "EP or V (i.p.)"}}},
   {"mark": {"type": "text", "fontSize": 12, "fontWeight": "bold", "baseline": "middle"}, "encoding": {"x": {"datum": -0.48}, "y": {"datum": -0.013}, "text": {"value": "//"}}},
   {"mark": {"type": "rect", "fill": "white", "stroke": "black", "strokeWidth": 1.5}, "encoding": {"x": {"datum": 0.25}, "x2": {"datum": 4.62}, "y": {"datum": -0.283}, "y2": {"datum": -0.643}}},
   {"mark": {"type": "point", "shape": "circle", "filled": true, "fill": "white", "stroke": "black", "strokeWidth": 1, "size": 40, "opacity": 1}, "encoding": {"x": {"datum": 0.52}, "y": {"datum": -0.352}}},
   {"mark": {"type": "point", "shape": "triangle-up", "filled": true, "fill": "#808080", "stroke": "black", "strokeWidth": 1, "size": 40, "opacity": 1}, "encoding": {"x": {"datum": 0.52}, "y": {"datum": -0.459}}},
   {"mark": {"type": "point", "shape": "diamond", "filled": true, "fill": "#808080", "stroke": "black", "strokeWidth": 1, "size": 40, "opacity": 1}, "encoding": {"x": {"datum": 0.52}, "y": {"datum": -0.563}}},
   {"mark": {"type": "text", "align": "left", "baseline": "middle", "fontSize": 13}, "encoding": {"x": {"datum": 0.73}, "y": {"datum": -0.352}, "text": {"value": ", V in V-mice"}}},
   {"mark": {"type": "text", "align": "left", "baseline": "middle", "fontSize": 13}, "encoding": {"x": {"datum": 0.73}, "y": {"datum": -0.459}, "text": {"value": ", V"}}},
   {"mark": {"type": "text", "align": "left", "baseline": "middle", "fontSize": 13}, "encoding": {"x": {"datum": 0.73}, "y": {"datum": -0.563}, "text": {"value": ", EP"}}},
   {"mark": {"type": "rule", "color": "black", "strokeWidth": 1.2}, "encoding": {"x": {"datum": 1.83}, "y": {"datum": -0.41}, "y2": {"datum": -0.586}}},
   {"mark": {"type": "rule", "color": "black", "strokeWidth": 1.2}, "encoding": {"x": {"datum": 1.65}, "x2": {"datum": 1.83}, "y": {"datum": -0.41}}},
   {"mark": {"type": "rule", "color": "black", "strokeWidth": 1.2}, "encoding": {"x": {"datum": 1.65}, "x2": {"datum": 1.83}, "y": {"datum": -0.586}}},
   {"mark": {"type": "text", "align": "left", "baseline": "middle", "fontSize": 13}, "encoding": {"x": {"datum": 1.92}, "y": {"datum": -0.506}, "text": {"value": "in BTZ-mice"}}},
   {"mark": {"type": "text", "fontSize": 11, "fontWeight": "bold", "baseline": "middle"}, "encoding": {"x": {"datum": -2.73}, "y": {"datum": 0.936}, "text": {"value": "F"}}}
  ]}
 ]},
 {"width": 151.7, "height": 145, "layer": [
  {"data": {"name": "G"}, "layer": [
   {"mark": {"type": "line", "color": "black", "strokeWidth": 1.2}, "encoding": {
     "x": {"field": "t", "type": "quantitative", "scale": {"domain": [-1.339, 14], "nice": false, "zero": false}, "axis": {"values": [0,2,4,6,8,10,12,14], "format": "d", "tickCount": 30, "offset": 3, "domain": false, "title": null, "labelOverlap": false}},
     "y": {"field": "v", "type": "quantitative", "scale": {"domain": [0, 1.0], "nice": false, "zero": false}, "axis": {"values": [0,0.2,0.4,0.6,0.8], "tickCount": 30, "offset": 0, "domain": false, "title": null, "labelOverlap": false, "labelExpr": "datum.value == 0 ? '0' : format(datum.value, '.1f')"}},
     "detail": {"field": "g"}}},
   {"mark": {"type": "rule", "color": "black", "strokeWidth": 1}, "encoding": {"x": {"field": "t", "type": "quantitative"}, "y": {"field": "v", "type": "quantitative"}, "y2": {"field": "hi"}}},
   {"mark": {"type": "tick", "orient": "horizontal", "size": 7, "thickness": 1, "color": "black"}, "encoding": {"x": {"field": "t", "type": "quantitative"}, "y": {"field": "hi", "type": "quantitative"}}},
   {"mark": {"type": "point", "filled": true, "size": 65, "stroke": "black", "strokeWidth": 1, "opacity": 1}, "encoding": {"x": {"field": "t", "type": "quantitative"}, "y": {"field": "v", "type": "quantitative"}, "shape": {"field": "g", "type": "nominal", "scale": {"domain": ["o","t","d"], "range": ["circle","triangle-up","diamond"]}, "legend": null}, "fill": {"field": "g", "type": "nominal", "scale": {"domain": ["o","t","d"], "range": ["white","#808080","#808080"]}, "legend": null}}}
  ]},
  {"data": {"name": "Garr"}, "layer": [
   {"transform": [{"filter": "datum.k == 'top'"}], "mark": {"type": "rule", "color": "black", "strokeWidth": 1, "strokeDash": [2, 1.5]}, "encoding": {"x": {"field": "t", "type": "quantitative"}, "y": {"datum": 1.032}, "y2": {"datum": 0.735}}},
   {"transform": [{"filter": "datum.k == 'top'"}], "mark": {"type": "point", "shape": "triangle-down", "filled": true, "color": "black", "opacity": 1, "size": 28}, "encoding": {"x": {"field": "t", "type": "quantitative"}, "y": {"datum": 0.735}}},
   {"transform": [{"filter": "datum.k == 'bot'"}], "mark": {"type": "rule", "color": "black", "strokeWidth": 1.2}, "encoding": {"x": {"field": "t", "type": "quantitative"}, "y": {"datum": 0.805}, "y2": {"datum": 0.735}}},
   {"transform": [{"filter": "datum.k == 'bot'"}], "mark": {"type": "point", "shape": "triangle-down", "filled": true, "color": "black", "opacity": 1, "size": 28}, "encoding": {"x": {"field": "t", "type": "quantitative"}, "y": {"datum": 0.735}}}
  ]},
  {"data": {"name": "Gsig"}, "layer": [
   {"mark": {"type": "text", "fontSize": 13, "color": "#555555", "dy": 3}, "encoding": {"x": {"field": "t", "type": "quantitative"}, "y": {"field": "at", "type": "quantitative"}, "text": {"field": "s"}}}
  ]},
  {"data": {"values": [{}]}, "layer": [
   {"mark": {"type": "rule", "color": "black", "strokeWidth": 1}, "encoding": {"x": {"datum": -1.339}, "y": {"datum": 0}, "y2": {"datum": 0.8}}},
   {"mark": {"type": "rule", "color": "black", "strokeWidth": 1}, "encoding": {"x": {"datum": 0}, "x2": {"datum": 14}, "y": {"datum": -0.0207}}},
   {"mark": {"type": "text", "baseline": "middle", "angle": 270}, "encoding": {"x": {"datum": -4.63}, "y": {"datum": 0.4}, "text": {"value": "Threshold (g)"}}},
   {"mark": {"type": "text", "baseline": "middle"}, "encoding": {"x": {"datum": 7}, "y": {"datum": -0.19}, "text": {"value": "Time (day) after the onset of"}}},
   {"mark": {"type": "text", "baseline": "middle"}, "encoding": {"x": {"datum": 7}, "y": {"datum": -0.279}, "text": {"value": "i.p. BTZ"}}},
   {"mark": {"type": "rect", "fill": "white", "stroke": "black", "strokeWidth": 1.3}, "encoding": {"x": {"datum": 6.13}, "x2": {"datum": 15.77}, "y": {"datum": 1.143}, "y2": {"datum": 1.032}}},
   {"mark": {"type": "text", "fontSize": 13, "baseline": "middle"}, "encoding": {"x": {"datum": 10.95}, "y": {"datum": 1.088}, "text": {"value": "Cld or Lipo (i.p.)"}}},
   {"mark": {"type": "rect", "fill": "white", "stroke": "black", "strokeWidth": 1.3}, "encoding": {"x": {"datum": -0.23}, "x2": {"datum": 12.64}, "y": {"datum": 0.92}, "y2": {"datum": 0.805}}},
   {"mark": {"type": "text", "fontSize": 13, "baseline": "middle"}, "encoding": {"x": {"datum": 6.2}, "y": {"datum": 0.862}, "text": {"value": "BTZ or V (i.p.)"}}},
   {"mark": {"type": "rect", "fill": "white", "stroke": "black", "strokeWidth": 1.5}, "encoding": {"x": {"datum": 0.63}, "x2": {"datum": 13.8}, "y": {"datum": -0.345}, "y2": {"datum": -0.697}}},
   {"mark": {"type": "point", "shape": "circle", "filled": true, "fill": "white", "stroke": "black", "strokeWidth": 1, "size": 40, "opacity": 1}, "encoding": {"x": {"datum": 1.39}, "y": {"datum": -0.404}}},
   {"mark": {"type": "point", "shape": "triangle-up", "filled": true, "fill": "#808080", "stroke": "black", "strokeWidth": 1, "size": 40, "opacity": 1}, "encoding": {"x": {"datum": 1.39}, "y": {"datum": -0.512}}},
   {"mark": {"type": "point", "shape": "diamond", "filled": true, "fill": "#808080", "stroke": "black", "strokeWidth": 1, "size": 40, "opacity": 1}, "encoding": {"x": {"datum": 1.39}, "y": {"datum": -0.634}}},
   {"mark": {"type": "text", "align": "left", "baseline": "middle", "fontSize": 13}, "encoding": {"x": {"datum": 2.09}, "y": {"datum": -0.404}, "text": {"value": ", Lipo in V-mice"}}},
   {"mark": {"type": "text", "align": "left", "baseline": "middle", "fontSize": 13}, "encoding": {"x": {"datum": 2.09}, "y": {"datum": -0.512}, "text": {"value": ", Lipo"}}},
   {"mark": {"type": "text", "align": "left", "baseline": "middle", "fontSize": 13}, "encoding": {"x": {"datum": 2.09}, "y": {"datum": -0.634}, "text": {"value": ", Cld"}}},
   {"mark": {"type": "rule", "color": "black", "strokeWidth": 1.2}, "encoding": {"x": {"datum": 6.34}, "y": {"datum": -0.478}, "y2": {"datum": -0.65}}},
   {"mark": {"type": "rule", "color": "black", "strokeWidth": 1.2}, "encoding": {"x": {"datum": 5.84}, "x2": {"datum": 6.34}, "y": {"datum": -0.478}}},
   {"mark": {"type": "rule", "color": "black", "strokeWidth": 1.2}, "encoding": {"x": {"datum": 5.84}, "x2": {"datum": 6.34}, "y": {"datum": -0.65}}},
   {"mark": {"type": "text", "align": "left", "baseline": "middle", "fontSize": 13}, "encoding": {"x": {"datum": 6.6}, "y": {"datum": -0.559}, "text": {"value": "in BTZ-mice"}}},
   {"mark": {"type": "text", "fontSize": 11, "fontWeight": "bold", "baseline": "middle"}, "encoding": {"x": {"datum": -4.58}, "y": {"datum": 1.139}, "text": {"value": "G"}}}
  ]}
 ]}
]
}
